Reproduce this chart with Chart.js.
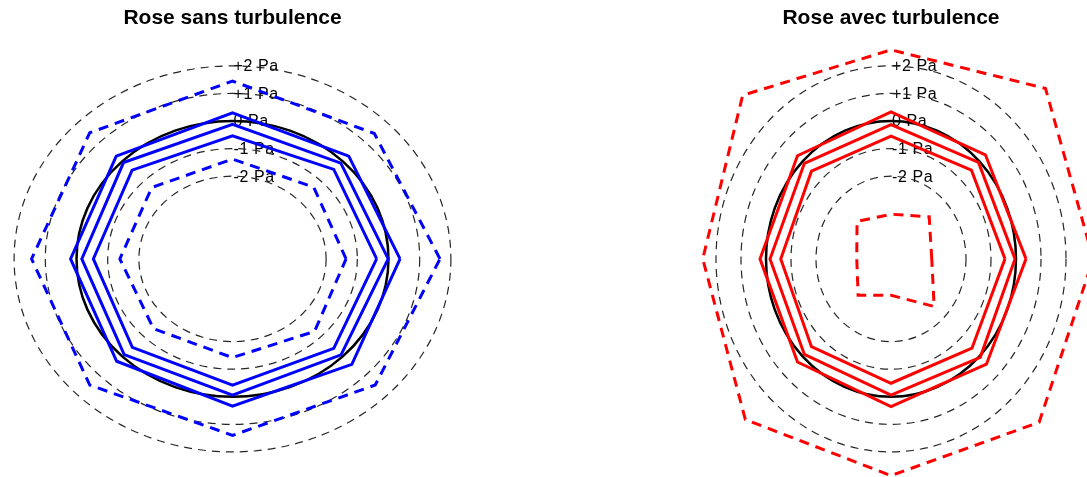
<!DOCTYPE html>
<html>
<head>
<meta charset="utf-8">
<script src="https://cdn.jsdelivr.net/npm/chart.js@4.4.1/dist/chart.umd.min.js"></script>
<style>
  html, body { margin: 0; padding: 0; background: #fff; width: 1087px; height: 477px; overflow: hidden; }
  .panel { position: absolute; top: 0; height: 477px; }
  #left { left: 0; width: 465px; }
  #right { left: 695px; width: 392px; }
</style>
</head>
<body>
<div class="panel" id="left"><canvas id="roseCalm"></canvas></div>
<div class="panel" id="right"><canvas id="roseTurb"></canvas></div>
<script>
// Wind directions, angles counter-clockwise from east (degrees)
const directions = ['E', 'NE', 'N', 'NO', 'O', 'SO', 'S', 'SE'];
const angles = [0, 45, 90, 135, 180, 225, 270, 315];

// Reference rings (Pa) and their labels
const ringValues = [-2, -1, 0, 1, 2];
const ringLabels = ['-2 Pa', '-1 Pa', '0 Pa', '+1 Pa', '+2 Pa'];
const radialOffset = 5; // 0 Pa sits at radius 5

// Pressure per direction (Pa) — without turbulence
const calmMax   = [1.65, 1.43, 1.45, 1.47, 1.44, 1.47, 1.40, 1.47];
const calmUpper = [0.37, 0.27, 0.30, 0.27, 0.19, 0.25, 0.34, 0.41];
const calmMean  = [-0.01, -0.09, -0.12, -0.06, -0.17, -0.09, -0.06, -0.08];
const calmLower = [-0.38, -0.41, -0.54, -0.45, -0.54, -0.46, -0.42, -0.41];
const calmMin   = [-1.36, -1.32, -1.38, -1.34, -1.39, -1.42, -1.42, -1.28];

// Pressure per direction (Pa) — with turbulence
const turbMax   = [3.09, 3.74, 2.58, 3.39, 2.53, 3.24, 2.86, 3.38];
const turbUpper = [0.40, 0.34, 0.33, 0.29, 0.24, 0.29, 0.36, 0.40];
const turbMean  = [-0.04, -0.05, -0.13, -0.10, -0.16, -0.10, -0.06, 0.05];
const turbLower = [-0.44, -0.45, -0.55, -0.50, -0.59, -0.50, -0.49, -0.42];
const turbMin   = [-3.37, -2.84, -3.38, -3.08, -3.63, -3.14, -3.68, -2.56];

// Closed polygon in data coordinates
function polygon(values) {
  const pts = values.map((v, i) => {
    const a = angles[i] * Math.PI / 180;
    const r = v + radialOffset;
    return { x: r * Math.cos(a), y: r * Math.sin(a) };
  });
  pts.push(pts[0]);
  return pts;
}

function lineSet(values, color, dashed) {
  return {
    data: polygon(values),
    showLine: true,
    borderColor: color,
    borderWidth: 3,
    borderDash: dashed ? [10, 7] : [],
    pointRadius: 0,
    tension: 0,
    fill: false
  };
}

const FONT = '"Liberation Sans", Arial, Helvetica, sans-serif';

// Rings, 0 Pa reference circle and ring labels
const ringPlugin = {
  id: 'rings',
  beforeDatasetsDraw(chart) {
    const { ctx, scales: { x, y } } = chart;
    const cx = x.getPixelForValue(0);
    const cy = y.getPixelForValue(0);
    ctx.save();
    // labels
    ctx.fillStyle = '#000';
    ctx.font = '16px ' + FONT;
    ctx.textAlign = 'left';
    ctx.textBaseline = 'middle';
    if ('letterSpacing' in ctx) ctx.letterSpacing = '0.6px';
    ringValues.forEach((v, i) => {
      const ty = y.getPixelForValue(v + radialOffset);
      ctx.fillText(ringLabels[i], cx + 1, ty + 1);
    });
    if ('letterSpacing' in ctx) ctx.letterSpacing = '0px';
    // dashed rings
    ctx.strokeStyle = '#262626';
    ctx.lineWidth = 1.2;
    ctx.setLineDash([8, 6]);
    ringValues.forEach(v => {
      const rx = x.getPixelForValue(v + radialOffset) - cx;
      const ry = cy - y.getPixelForValue(v + radialOffset);
      ctx.beginPath();
      ctx.ellipse(cx, cy, rx, ry, 0, 0, Math.PI * 2);
      ctx.stroke();
    });
    // solid 0 Pa circle
    ctx.setLineDash([]);
    ctx.strokeStyle = '#000';
    ctx.lineWidth = 2.5;
    const rx0 = x.getPixelForValue(radialOffset) - cx;
    const ry0 = cy - y.getPixelForValue(radialOffset);
    ctx.beginPath();
    ctx.ellipse(cx, cy, rx0, ry0, 0, 0, Math.PI * 2);
    ctx.stroke();
    ctx.restore();
  }
};

function makeRose(canvasId, title, color, series, xHalf) {
  return new Chart(document.getElementById(canvasId), {
    type: 'scatter',
    data: {
      datasets: [
        lineSet(series[0], color, true),
        lineSet(series[1], color, false),
        lineSet(series[2], color, false),
        lineSet(series[3], color, false),
        lineSet(series[4], color, true)
      ]
    },
    options: {
      responsive: true,
      maintainAspectRatio: false,
      animation: false,
      layout: { padding: 0 },
      plugins: {
        legend: { display: false },
        tooltip: { enabled: false },
        title: {
          display: true,
          text: title,
          color: '#000',
          font: { family: FONT, size: 21, weight: 'bold' },
          padding: { top: 6, bottom: 0 }
        }
      },
      scales: {
        x: { type: 'linear', display: false, min: -xHalf, max: xHalf },
        y: { type: 'linear', display: false, min: -7.91, max: 8.257 }
      }
    },
    plugins: [ringPlugin]
  });
}

makeRose('roseCalm', 'Rose sans turbulence', '#0000ff',
  [calmMax, calmUpper, calmMean, calmLower, calmMin], 7.452);
makeRose('roseTurb', 'Rose avec turbulence', '#ff0000',
  [turbMax, turbUpper, turbMean, turbLower, turbMin], 7.84);
</script>
</body>
</html>
